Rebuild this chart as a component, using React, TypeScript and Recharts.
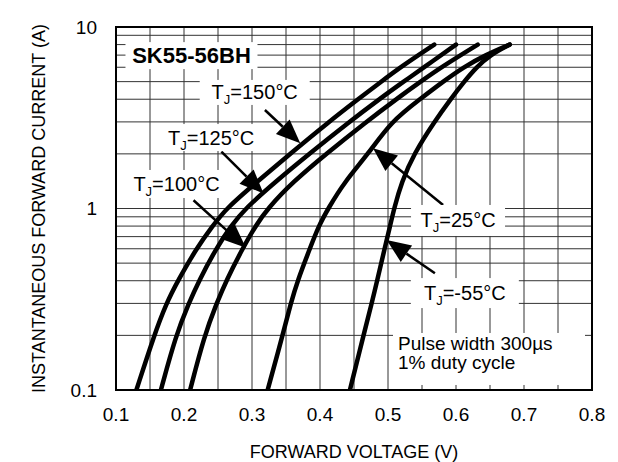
import { LineChart, Line, XAxis, YAxis, CartesianGrid, ReferenceArea, ReferenceDot, ReferenceLine } from 'recharts';

// grid + tick values
const xTicks = [0.1, 0.15, 0.2, 0.25, 0.3, 0.35, 0.4, 0.45, 0.5, 0.55, 0.6, 0.65, 0.7, 0.75, 0.8];
const yTicks = [0.1, 0.2, 0.3, 0.4, 0.5, 0.6, 0.7, 0.8, 0.9, 1, 2, 3, 4, 5, 6, 7, 8, 9, 10];
const yLabelTicks = [0.1, 1, 10];

// forward current levels (A)
const ampsHot = [0.1, 0.2, 0.3, 0.4, 0.6, 0.8, 1, 1.4, 2, 3, 4, 5, 6, 8];
const ampsCold = [0.1, 0.2, 0.3, 0.4, 0.6, 0.8, 1, 1.4, 2, 3, 4, 5, 6, 7, 8];

// forward voltage (V) per junction temperature
const volts150 = [0.130, 0.156, 0.174, 0.191, 0.218, 0.242, 0.262, 0.307, 0.356, 0.413, 0.456, 0.490, 0.518, 0.568];
const volts125 = [0.166, 0.188, 0.207, 0.222, 0.247, 0.269, 0.290, 0.334, 0.384, 0.443, 0.487, 0.523, 0.553, 0.600];
const volts100 = [0.209, 0.230, 0.248, 0.262, 0.286, 0.305, 0.323, 0.360, 0.409, 0.468, 0.512, 0.548, 0.578, 0.632];
const volts25 = [0.323, 0.345, 0.357, 0.367, 0.385, 0.398, 0.412, 0.436, 0.471, 0.504, 0.547, 0.581, 0.611, 0.643, 0.679];
const voltsM55 = [0.444, 0.464, 0.476, 0.484, 0.495, 0.503, 0.509, 0.520, 0.538, 0.568, 0.592, 0.612, 0.630, 0.650, 0.679];

const toPoints = (volts: number[], amps: number[]) => volts.map((v, i) => ({ v, a: amps[i] }));

const curves = [
  { key: '150', data: toPoints(volts150, ampsHot) },
  { key: '125', data: toPoints(volts125, ampsHot) },
  { key: '100', data: toPoints(volts100, ampsHot) },
  { key: '25', data: toPoints(volts25, ampsCold) },
  { key: '-55', data: toPoints(voltsM55, ampsCold) },
];

// label anchors (V, A)
const tempLabels = [
  { temp: '150', v: 0.304, a: 4.36, w: 110, h: 25 },
  { temp: '125', v: 0.240, a: 2.46, w: 110, h: 27 },
  { temp: '100', v: 0.189, a: 1.365, w: 104, h: 28 },
  { temp: '25', v: 0.603, a: 0.859, w: 94, h: 31 },
  { temp: '-55', v: 0.613, a: 0.342, w: 108, h: 30 },
];

// arrows: from (v1,a1) to tip (v2,a2)
const arrows = [
  { v1: 0.319, a1: 3.49, v2: 0.371, a2: 2.29 },
  { v1: 0.255, a1: 2.06, v2: 0.317, a2: 1.21 },
  { v1: 0.214, a1: 1.11, v2: 0.291, a2: 0.608 },
  { v1: 0.581, a1: 1.045, v2: 0.478, a2: 2.15 },
  { v1: 0.569, a1: 0.44, v2: 0.498, a2: 0.67 },
];

const FONT = "'Liberation Sans', Arial, Helvetica, sans-serif";

const fmtX = (v: number) => (Math.abs(v * 10 - Math.round(v * 10)) < 1e-6 ? v.toFixed(1) : '');
const fmtY = (v: number) => (yLabelTicks.includes(v) ? String(v) : '');

const Arrow = (p: any) => {
  const { x1, y1, x2, y2 } = p;
  const dx = x2 - x1;
  const dy = y2 - y1;
  const len = Math.sqrt(dx * dx + dy * dy);
  const ux = dx / len;
  const uy = dy / len;
  const headLen = 24;
  const half = 10;
  const bx = x2 - ux * headLen;
  const by = y2 - uy * headLen;
  const pts = `${x2},${y2} ${bx - uy * half},${by + ux * half} ${bx + uy * half},${by - ux * half}`;
  return (
    <g>
      <line x1={x1} y1={y1} x2={bx} y2={by} stroke="#000" strokeWidth={2.5} />
      <polygon points={pts} fill="#000" />
    </g>
  );
};

const TempLabel = ({ cx, cy, temp, w, h }: any) => (
  <g>
    <rect x={cx - w / 2} y={cy - h / 2} width={w} height={h} fill="#fff" />
    <text x={cx} y={cy + 7} textAnchor="middle" fontSize={20} fontFamily={FONT} fill="#000">
      T<tspan fontSize={13} dy={5}>J</tspan>
      <tspan dy={-5}>={temp}°C</tspan>
    </text>
  </g>
);

const PartLabel = ({ cx, cy }: any) => (
  <g>
    <rect x={cx - 66} y={cy - 13} width={132} height={27} fill="#fff" />
    <text x={cx} y={cy + 8} textAnchor="middle" fontSize={22} fontWeight="bold" fontFamily={FONT} fill="#000">
      SK55-56BH
    </text>
  </g>
);

const NoteLabel = ({ cx, cy }: any) => (
  <g>
    <rect x={cx - 5} y={cy - 19} width={192} height={52} fill="#fff" />
    <text x={cx} y={cy - 2} fontSize={19} fontFamily={FONT} fill="#000">Pulse width 300µs</text>
    <text x={cx} y={cy + 17} fontSize={19} fontFamily={FONT} fill="#000">1% duty cycle</text>
  </g>
);

const YTitle = (props: any) => {
  const vb = props.viewBox || { x: 0, y: 27, width: 116, height: 363 };
  const x = vb.x + 45;
  const y = vb.y + vb.height / 2;
  return (
    <text x={x} y={y} transform={`rotate(-90, ${x}, ${y})`} textAnchor="middle" fontSize={18} fontFamily={FONT} fill="#000">
      INSTANTANEOUS FORWARD CURRENT (A)
    </text>
  );
};

const XTitle = (props: any) => {
  const vb = props.viewBox || { x: 116, y: 390, width: 476, height: 40 };
  return (
    <text x={vb.x + vb.width / 2} y={vb.y + 68} textAnchor="middle" fontSize={18} fontFamily={FONT} fill="#000">
      FORWARD VOLTAGE (V)
    </text>
  );
};

export default function App() {
  return (
    <div style={{ position: 'absolute', left: 0, top: 0, width: 618, height: 462, background: '#fff' }}>
      <LineChart width={618} height={462} margin={{ top: 27, right: 26, bottom: 32, left: 0 }} style={{ fontFamily: FONT }}>
        <CartesianGrid stroke="#333" strokeWidth={1} />
        <XAxis
          dataKey="v"
          type="number"
          domain={[0.1, 0.8]}
          ticks={xTicks}
          interval={0}
          tickFormatter={fmtX}
          allowDataOverflow
          height={40}
          tickLine={false}
          tickSize={6}
          tickMargin={12}
          axisLine={{ stroke: '#000', strokeWidth: 2 }}
          tick={{ fill: '#000', fontSize: 19, fontFamily: FONT }}
          label={{ content: XTitle }}
        />
        <YAxis
          dataKey="a"
          type="number"
          scale="log"
          domain={[0.1, 10]}
          ticks={yTicks}
          interval={0}
          tickFormatter={fmtY}
          allowDataOverflow
          width={116}
          tickLine={false}
          tickSize={6}
          tickMargin={13}
          axisLine={{ stroke: '#000', strokeWidth: 2 }}
          tick={{ fill: '#000', fontSize: 19, fontFamily: FONT }}
          label={{ content: YTitle }}
        />
        <ReferenceArea x1={0.1} x2={0.8} y1={0.1} y2={10} fill="none" fillOpacity={0} stroke="#000" strokeWidth={2} />
        <ReferenceDot x={0.211} y={7.0} r={0} shape={(p: any) => <PartLabel {...p} />} />
        {tempLabels.map((l) => (
          <ReferenceDot key={l.temp} x={l.v} y={l.a} r={0} shape={(p: any) => <TempLabel {...p} temp={l.temp} w={l.w} h={l.h} />} />
        ))}
        <ReferenceDot x={0.5147} y={0.162} r={0} shape={(p: any) => <NoteLabel {...p} />} />
        {curves.map((c) => (
          <Line
            key={c.key}
            data={c.data}
            dataKey="a"
            type="basis"
            stroke="#000"
            strokeWidth={4.5}
            strokeLinecap="round"
            dot={false}
            activeDot={false}
            isAnimationActive={false}
          />
        ))}
        {arrows.map((a, i) => (
          <ReferenceLine
            key={i}
            segment={[{ x: a.v1, y: a.a1 }, { x: a.v2, y: a.a2 }]}
            shape={(p: any) => <Arrow {...p} />}
          />
        ))}
      </LineChart>
    </div>
  );
}
